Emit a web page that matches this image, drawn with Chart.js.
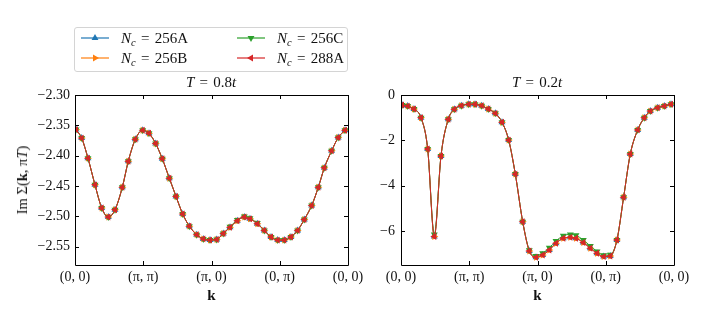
<!DOCTYPE html>
<html><head><meta charset="utf-8">
<script src="https://cdn.jsdelivr.net/npm/chart.js@4/dist/chart.umd.min.js"></script>
<style>
html,body{margin:0;padding:0;background:#fff}
body{width:705px;height:317px;overflow:hidden;position:relative;font-family:"Liberation Serif",serif;color:#111}
canvas{position:absolute;top:0}
#c1{left:0}
#c2{left:360px}
.lab{position:absolute;font-size:14.5px;white-space:nowrap;line-height:18px}
.ttl{position:absolute;width:140px;text-align:center;font-size:15px;line-height:18px;word-spacing:1.5px}
#legend{position:absolute;left:74px;top:27px;width:272px;height:43px;border:1px solid #d4d4d4;border-radius:3px;background:rgba(255,255,255,0.8)}
.item{position:absolute;height:20px;display:flex;align-items:center;font-size:15px;white-space:nowrap;word-spacing:1.5px}
.item svg{margin-right:12px}
sub{font-size:10.5px;vertical-align:-3px;line-height:0}
</style></head>
<body>
<canvas id="c1" width="375" height="317"></canvas>
<canvas id="c2" width="345" height="317"></canvas>
<div id="legend"></div>
<div class="ttl" style="left:141px;top:73px"><i>T</i> = 0.8<i>t</i></div>
<div class="ttl" style="left:467px;top:73px"><i>T</i> = 0.2<i>t</i></div>
<div class="lab" style="left:22px;top:180px;transform:translate(-50%,-50%) rotate(-90deg)">Im Σ(<b>k</b>, π<i>T</i>)</div>
<script>
// ---- data ----
const kPath = [0.015, 0.098, 0.19, 0.293, 0.391, 0.488, 0.586, 0.693, 0.781, 0.884,
  0.992, 1.084, 1.182, 1.279, 1.382, 1.48, 1.578, 1.675, 1.783, 1.88,
  1.978, 2.076, 2.173, 2.271, 2.378, 2.481, 2.564, 2.671, 2.774, 2.872,
  2.97, 3.066, 3.164, 3.262, 3.36, 3.468, 3.565, 3.653, 3.76, 3.857, 3.956];
const xTickPos = [0, 1, 2, 3, 4];
const xTickLabels = ['(0, 0)', '(π, π)', '(π, 0)', '(0, π)', '(0, 0)'];
const seriesNames = ['256A', '256B', '256C', '288A'];

// T = 0.8t
const highT_256A = [-2.357, -2.371, -2.404, -2.448, -2.486, -2.501, -2.489, -2.452, -2.409, -2.373,
  -2.358, -2.363, -2.380, -2.405, -2.437, -2.467, -2.496, -2.516, -2.530, -2.537,
  -2.539, -2.538, -2.528, -2.518, -2.507, -2.501, -2.504, -2.512, -2.523, -2.534,
  -2.539, -2.539, -2.534, -2.523, -2.505, -2.482, -2.452, -2.420, -2.392, -2.370, -2.358];
const highT_256B = [-2.357, -2.371, -2.404, -2.448, -2.486, -2.501, -2.489, -2.452, -2.409, -2.373,
  -2.358, -2.363, -2.380, -2.405, -2.437, -2.467, -2.496, -2.516, -2.530, -2.537,
  -2.539, -2.538, -2.528, -2.518, -2.507, -2.501, -2.504, -2.512, -2.523, -2.534,
  -2.539, -2.539, -2.534, -2.523, -2.505, -2.482, -2.452, -2.420, -2.392, -2.370, -2.358];
const highT_256C = [-2.357, -2.371, -2.404, -2.448, -2.486, -2.501, -2.489, -2.452, -2.409, -2.373,
  -2.358, -2.363, -2.380, -2.405, -2.437, -2.467, -2.496, -2.516, -2.530, -2.537,
  -2.539, -2.538, -2.528, -2.517, -2.506, -2.500, -2.503, -2.511, -2.523, -2.534,
  -2.539, -2.539, -2.534, -2.523, -2.505, -2.482, -2.452, -2.420, -2.392, -2.370, -2.358];
const highT_288A = [-2.357, -2.371, -2.404, -2.448, -2.486, -2.501, -2.489, -2.452, -2.409, -2.373,
  -2.358, -2.363, -2.380, -2.405, -2.437, -2.467, -2.496, -2.516, -2.530, -2.537,
  -2.539, -2.538, -2.528, -2.518, -2.507, -2.501, -2.504, -2.512, -2.523, -2.534,
  -2.539, -2.539, -2.534, -2.523, -2.505, -2.482, -2.452, -2.420, -2.392, -2.370, -2.358];

// T = 0.2t
const lowT_256A = [-0.44, -0.49, -0.62, -1.00, -2.38, -6.24, -2.69, -1.07, -0.63, -0.47,
  -0.41, -0.41, -0.47, -0.62, -0.81, -1.20, -1.99, -3.49, -5.59, -6.88,
  -7.16, -7.06, -6.84, -6.54, -6.32, -6.28, -6.32, -6.51, -6.76, -6.98,
  -7.13, -7.10, -6.40, -4.51, -2.60, -1.54, -1.00, -0.71, -0.56, -0.49, -0.41];
const lowT_256B = [-0.44, -0.49, -0.62, -1.00, -2.38, -6.24, -2.69, -1.07, -0.63, -0.47,
  -0.41, -0.41, -0.47, -0.62, -0.81, -1.20, -1.99, -3.49, -5.59, -6.88,
  -7.16, -7.06, -6.84, -6.54, -6.32, -6.28, -6.32, -6.51, -6.76, -6.98,
  -7.13, -7.10, -6.40, -4.51, -2.60, -1.54, -1.00, -0.71, -0.56, -0.49, -0.41];
const lowT_256C = [-0.44, -0.49, -0.62, -1.00, -2.38, -6.15, -2.69, -1.07, -0.63, -0.47,
  -0.41, -0.41, -0.47, -0.62, -0.81, -1.20, -1.99, -3.49, -5.59, -6.85,
  -7.10, -6.98, -6.74, -6.44, -6.21, -6.15, -6.19, -6.40, -6.66, -6.90,
  -7.07, -7.05, -6.40, -4.51, -2.60, -1.54, -1.00, -0.71, -0.56, -0.49, -0.41];
const lowT_288A = [-0.44, -0.49, -0.62, -1.00, -2.38, -6.24, -2.69, -1.07, -0.63, -0.47,
  -0.41, -0.41, -0.47, -0.62, -0.81, -1.20, -1.99, -3.49, -5.59, -6.88,
  -7.16, -7.06, -6.84, -6.54, -6.32, -6.28, -6.32, -6.51, -6.76, -6.98,
  -7.13, -7.10, -6.40, -4.51, -2.60, -1.54, -1.00, -0.71, -0.56, -0.49, -0.41];

const yTicksHighT = [-2.55, -2.50, -2.45, -2.40, -2.35, -2.30];
const yTicksLowT = [-6, -4, -2, 0];

// ---- styles ----
const styles = [
  {color: '#1f77b4', rot: 0},
  {color: '#ff7f0e', rot: 90},
  {color: '#2ca02c', rot: 180},
  {color: '#d62728', rot: -90}
];

// ---- legend (HTML) ----
(function buildLegend() {
  const leg = document.getElementById('legend');
  const pos = [{l: 6, t: 0}, {l: 6, t: 20}, {l: 162, t: 0}, {l: 162, t: 20}];
  seriesNames.forEach((name, i) => {
    const s = styles[i];
    const d = document.createElement('div');
    d.className = 'item';
    d.style.left = pos[i].l + 'px';
    d.style.top = pos[i].t + 'px';
    const r = 4;
    const pts = [0, 120, 240].map(a => {
      const rad = (a + s.rot) * Math.PI / 180;
      return (14 + Math.sin(rad) * r).toFixed(2) + ',' + (5 - Math.cos(rad) * r).toFixed(2);
    }).join(' ');
    d.innerHTML = '<svg width="28" height="10"><line x1="0" y1="5" x2="28" y2="5" stroke="' + s.color +
      '" stroke-width="1.2"/><polygon points="' + pts + '" fill="' + s.color + '"/></svg>' +
      '<span><i>N</i><sub><i>c</i></sub> = ' + name + '</span>';
    leg.appendChild(d);
  });
})();

// ---- frame / inward ticks plugin ----
const framePlugin = {
  id: 'frame',
  afterDatasetsDraw(chart) {
    const {ctx, chartArea: a, scales: {x, y}} = chart;
    ctx.save();
    ctx.strokeStyle = '#000';
    ctx.lineWidth = 1;
    ctx.beginPath();
    ctx.rect(Math.round(a.left) + 0.5, Math.round(a.top) + 0.5,
             Math.round(a.right - a.left), Math.round(a.bottom - a.top));
    ctx.stroke();
    ctx.beginPath();
    x.ticks.forEach(t => {
      const px = Math.round(x.getPixelForValue(t.value)) + 0.5;
      ctx.moveTo(px, a.bottom); ctx.lineTo(px, a.bottom - 4);
      ctx.moveTo(px, a.top); ctx.lineTo(px, a.top + 4);
    });
    y.ticks.forEach(t => {
      const py = Math.round(y.getPixelForValue(t.value)) + 0.5;
      ctx.moveTo(a.left, py); ctx.lineTo(a.left + 4, py);
      ctx.moveTo(a.right, py); ctx.lineTo(a.right - 4, py);
    });
    ctx.stroke();
    ctx.restore();
  }
};

const tickFont = {family: '"Liberation Serif", serif', size: 14};

function makeChart(id, seriesList, yMin, yMax, yTicks, yFmt, yWidth, padRight, yPad) {
  const datasets = seriesList.map((vals, i) => ({
    label: 'N_c = ' + seriesNames[i],
    data: kPath.map((k, j) => ({x: k, y: vals[j]})),
    borderColor: styles[i].color,
    backgroundColor: styles[i].color,
    borderWidth: 1,
    pointStyle: 'triangle',
    pointRotation: styles[i].rot,
    pointRadius: 4,
    pointBorderWidth: 0,
    pointBackgroundColor: styles[i].color,
    cubicInterpolationMode: 'monotone',
    order: 4 - i
  }));
  return new Chart(document.getElementById(id), {
    type: 'line',
    data: {datasets},
    plugins: [framePlugin],
    options: {
      responsive: false,
      animation: false,
      devicePixelRatio: 1,
      layout: {padding: {top: 95, left: 0, right: padRight, bottom: 0}},
      plugins: {legend: {display: false}, tooltip: {enabled: false}, title: {display: false}},
      scales: {
        x: {
          type: 'linear', min: 0, max: 4,
          grid: {display: false, drawTicks: false},
          border: {display: false},
          afterBuildTicks: s => { s.ticks = xTickPos.map(v => ({value: v})); },
          afterFit: s => { s.height = 52; s.paddingLeft = 0; s.paddingRight = 0; },
          ticks: {
            autoSkip: false, maxRotation: 0, padding: 4, color: '#111', font: tickFont,
            callback: (v) => xTickLabels[xTickPos.indexOf(v)]
          },
          title: {display: true, text: 'k', color: '#111',
                  font: {family: '"Liberation Serif", serif', size: 15, weight: 'bold'},
                  padding: {top: 0, bottom: 12}}
        },
        y: {
          type: 'linear', min: yMin, max: yMax,
          grid: {display: false, drawTicks: false},
          border: {display: false},
          afterBuildTicks: s => { s.ticks = yTicks.map(v => ({value: v})); },
          afterFit: s => { s.width = yWidth; s.paddingTop = 0; s.paddingBottom = 0; },
          ticks: {padding: yPad, color: '#111', font: tickFont, callback: yFmt}
        }
      }
    }
  });
}

makeChart('c1', [highT_256A, highT_256B, highT_256C, highT_288A], -2.58, -2.30, yTicksHighT,
  v => (v < 0 ? '−' : '') + Math.abs(v).toFixed(2), 75, 27, 5);
makeChart('c2', [lowT_256A, lowT_256B, lowT_256C, lowT_288A], -7.5, 0, yTicksLowT,
  v => v === 0 ? '0' : (v < 0 ? '−' : '') + Math.abs(v), 41, 31, 6);
</script>
</body></html>
